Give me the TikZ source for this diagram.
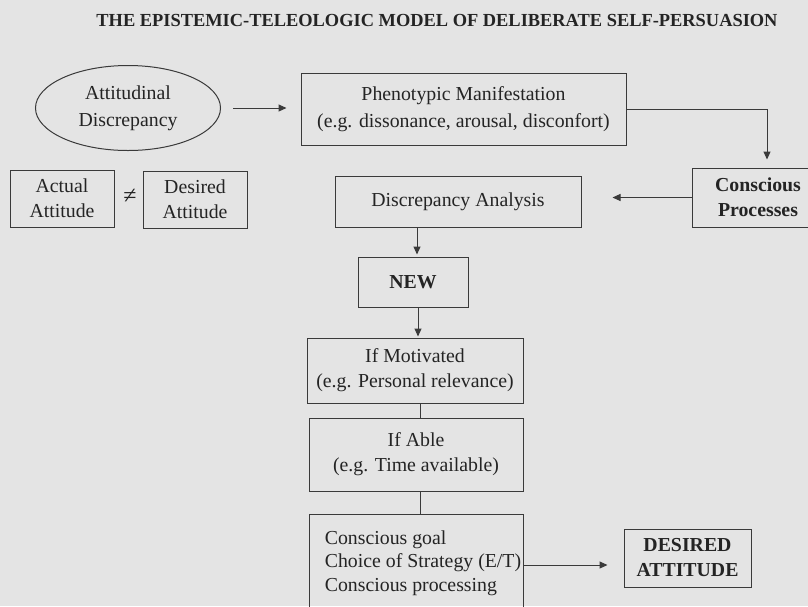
\documentclass[tikz,border=0pt]{standalone}
\usepackage{fontspec}
\setmainfont{Liberation Serif}
\usetikzlibrary{arrows.meta,shapes.geometric,calc}

\definecolor{paper}{HTML}{E4E4E4}
\definecolor{ink}{HTML}{242424}
\definecolor{rule}{HTML}{3A3A3A}

\tikzset{
  box/.style={draw=rule, line width=1pt, rectangle, inner sep=0pt,
    text=ink, align=center, font=\fontsize{19.8}{25}\selectfont},
  boldbox/.style={box, font=\fontsize{19.8}{25}\selectfont\bfseries},
  oval/.style={box, ellipse},
  arr/.style={draw=rule, line width=1pt, -{Triangle[length=8pt,width=7pt]}},
  plain/.style={draw=rule, line width=1pt},
}

\begin{document}
\begin{tikzpicture}[x=1pt, y=-1pt]
  % page
  \fill[paper] (0,0) rectangle (808,606);
  \useasboundingbox (0,0) rectangle (808,606);

  % heading
  \node[text=ink, font=\fontsize{18.4}{20}\selectfont\bfseries, inner sep=0pt]
    (title) at (437,20) {THE EPISTEMIC-TELEOLOGIC MODEL OF DELIBERATE SELF-PERSUASION};

  % upper row
  \node[oval, minimum width=185pt, minimum height=85pt,
        font=\fontsize{19.8}{27}\selectfont] (att) at (128,108)
    {Attitudinal\\Discrepancy};
  \node[box, minimum width=325pt, minimum height=72pt,
        font=\fontsize{19.8}{27}\selectfont] (phen) at (463.5,109)
    {Phenotypic Manifestation\\(e.g. dissonance, arousal, disconfort)};

  % second row
  \node[box, minimum width=104pt, minimum height=57pt] (actual) at (62,198.5)
    {Actual\\Attitude};
  \node[text=ink, font=\fontsize{24}{24}\selectfont, inner sep=0pt] (neq) at (130,196) {≠};
  \node[box, minimum width=104pt, minimum height=57pt] (desired) at (195,199.5)
    {Desired\\Attitude};
  \node[box, minimum width=246pt, minimum height=51pt] (disc) at (458,201.5)
    {Discrepancy Analysis};
  \node[boldbox, minimum width=132pt, minimum height=59pt] (cons) at (758,197.5)
    {Conscious\\Processes};

  % central chain
  \node[boldbox, minimum width=110pt, minimum height=50pt] (new) at (413,282) {NEW};
  \node[box, minimum width=216pt, minimum height=65pt] (motiv) at (415,370.5)
    {If Motivated\\(e.g. Personal relevance)};
  \node[box, minimum width=214pt, minimum height=73pt] (able) at (416,454.5)
    {If Able\\(e.g. Time available)};
  \node[box, minimum width=214pt, minimum height=98pt, align=left,
        font=\fontsize{19.8}{23.5}\selectfont] (goal) at (416,563)
    {\hspace*{14pt}Conscious goal\\\hspace*{14pt}Choice of Strategy (E/T)\\\hspace*{14pt}Conscious processing};
  \node[boldbox, minimum width=127pt, minimum height=58pt] (dattr) at (687.5,558)
    {DESIRED\\ATTITUDE};

  % connectors
  \draw[arr, shorten <=12pt, shorten >=14pt] (att.east) -- (att.east -| phen.west);
  \draw[arr, shorten >=8pt] (phen.east) -| ($(cons.north)+(9,0)$);
  \draw[arr, shorten >=31pt] (cons.west) -- (cons.west -| disc.east);
  \draw[arr, shorten >=2pt] ($(disc.south)+(-41,0)$) -- ($(new.north)+(4,0)$);
  \draw[arr, shorten >=1pt] ($(new.south)+(5,0)$) -- ($(new.south |- motiv.north)+(5,0)$);
  \draw[plain] ($(motiv.south)+(5,0)$) -- ($(motiv.south |- able.north)+(5,0)$);
  \draw[plain] ($(able.south)+(4,0)$) -- ($(able.south |- goal.north)+(4,0)$);
  \draw[arr, shorten >=16pt] ($(goal.east)+(0,2)$) -- ($(goal.east -| dattr.west)+(0,2)$);
\end{tikzpicture}
\end{document}
